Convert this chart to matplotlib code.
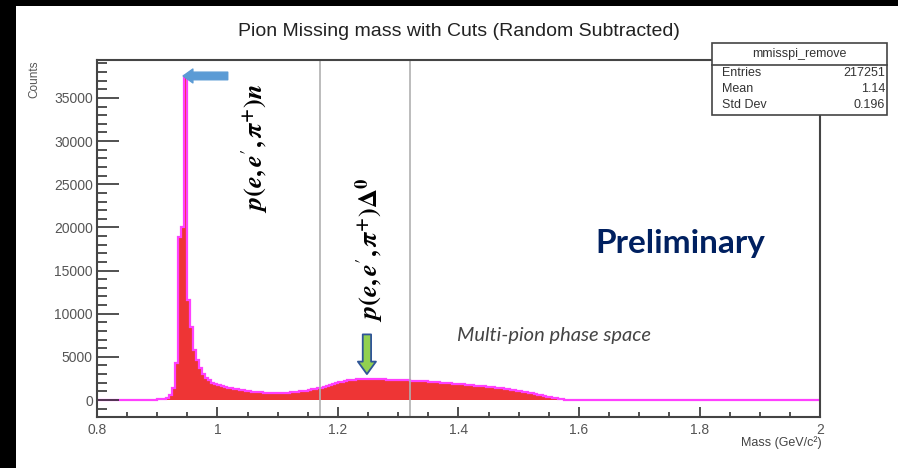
import matplotlib
matplotlib.use("Agg")
import matplotlib.pyplot as plt
import numpy as np
from matplotlib.patches import Rectangle

plt.rcParams['font.family'] = ['Liberation Sans', 'DejaVu Sans']
plt.rcParams['mathtext.fontset'] = 'stix'

# histogram: 240 bins of 0.005 GeV from 0.8 to 2.0
bin_lo = 0.8
bin_hi = 2.0
counts = (
    [0, 0, 0, 0, 0, 0, 0, 0, 0, 0] +                                   # 0.800
    [0, 0, 10, 10, 20, 20, 30, 30, 40, 50] +                           # 0.850
    [60, 90, 150, 250, 600, 1400, 4300, 18900, 20000, 37500] +         # 0.900
    [11600, 8500, 5800, 4600, 3700, 3000, 2600, 2300, 2000, 1800] +    # 0.950
    [1700, 1600, 1500, 1420, 1350, 1280, 1220, 1160, 1110, 1060] +     # 1.000
    [1020, 980, 940, 900, 870, 850, 830, 820, 810, 810] +              # 1.050
    [810, 820, 830, 850, 880, 910, 950, 990, 1040, 1090] +             # 1.100
    [1150, 1220, 1290, 1360, 1440, 1530, 1640, 1750, 1860, 1960] +     # 1.150
    [2050, 2140, 2210, 2270, 2320, 2370, 2400, 2430, 2450, 2470] +     # 1.200
    [2480, 2470, 2450, 2420, 2400, 2380, 2370, 2350, 2330, 2310] +     # 1.250
    [2290, 2280, 2270, 2260, 2240, 2230, 2210, 2200, 2180, 2160] +     # 1.300
    [2140, 2120, 2080, 2050, 2020, 1980, 1950, 1920, 1880, 1850] +     # 1.350
    [1830, 1800, 1770, 1740, 1710, 1680, 1650, 1610, 1580, 1540] +     # 1.400
    [1510, 1470, 1440, 1400, 1360, 1310, 1260, 1200, 1140, 1080] +     # 1.450
    [1020, 960, 900, 840, 770, 700, 620, 540, 460, 390] +              # 1.500
    [320, 250, 180, 120, 70, 30, 10, 0, 0, 0] +                        # 1.550
    [0] * 80                                                           # 1.600 - 2.000
)
edges = np.linspace(bin_lo, bin_hi, len(counts) + 1)

cut_lines = [1.17, 1.32]
stat_names = ['Entries', 'Mean', 'Std Dev']
stat_values = ['217251', '1.14', '0.196']

fig = plt.figure(figsize=(8.98, 4.68), dpi=100)
ax = fig.add_axes([97/898, 1-417/468, 723/898, 357/468])

ax.stairs(counts, edges, fill=True, color='#ee3535', lw=0)
ax.stairs(counts, edges, color='#ff40ff', lw=1.6)
for c in cut_lines:
    ax.axvline(c, color='#b0b0b0', lw=1.2)

ax.set_xlim(bin_lo, bin_hi)
ax.set_ylim(-1970, 39400)
ax.set_xticks(np.arange(0.8, 2.01, 0.2))
ax.set_xticklabels(['0.8', '1', '1.2', '1.4', '1.6', '1.8', '2'])
ax.set_xticks(np.arange(0.8, 2.0, 0.05), minor=True)
ax.set_yticks(np.arange(0, 35001, 5000))
ax.set_yticks(np.arange(-1000, 39001, 1000), minor=True)
ax.tick_params(axis='both', which='both', direction='in', colors='#333333',
               labelcolor='#555555', labelsize=10, width=1.2)
ax.tick_params(axis='y', which='major', length=16, pad=3)
ax.tick_params(axis='y', which='minor', length=7)
ax.tick_params(axis='x', which='major', length=7.5, pad=4)
ax.tick_params(axis='x', which='minor', length=3.5)
for s in ax.spines.values():
    s.set_color('#444444')
    s.set_linewidth(1.5)

# annotations
ax.annotate('', xy=(0.943, 37550), xytext=(1.017, 37550),
            arrowprops=dict(arrowstyle='simple,head_width=1.0,head_length=0.7,tail_width=0.55',
                            color='#5b9bd5', shrinkA=0, shrinkB=0))
ax.annotate('', xy=(1.248, 3000), xytext=(1.248, 7600),
            arrowprops=dict(arrowstyle='simple,head_width=1.3,head_length=0.9,tail_width=0.6',
                            fc='#92d050', ec='#2f5597', lw=1.3, shrinkA=0, shrinkB=0))
lab_n = (r'$\mathbfit{p}\mathbf{(}\mathbfit{e}\mathbf{,}\,\mathbfit{e}^{\prime}\mathbf{,}\,'
         r'\mathbfit{\pi}^{\mathbf{+}}\mathbf{)}\mathbfit{n}$')
lab_d = (r'$\mathbfit{p}\mathbf{(}\mathbfit{e}\mathbf{,}\,\mathbfit{e}^{\prime}\mathbf{,}\,'
         r'\mathbfit{\pi}^{\mathbf{+}}\mathbf{)}\mathbf{\Delta}^{\mathbf{0}}$')
ax.text(1.062, 29100, lab_n, rotation=90, ha='center', va='center',
        fontsize=19, color='black')
ax.text(1.253, 17400, lab_d, rotation=90, ha='center', va='center',
        fontsize=19, color='black')

fig.text(680/898, 1-243/468, 'Preliminary', ha='center', va='center',
         fontsize=24, fontweight='bold', color='#002060', family='Lato')
fig.text(554/898, 1-335/468, 'Multi-pion phase space', ha='center', va='center',
         fontsize=14.5, style='italic', color='#444444', family='Lato')

fig.text(459/898, 1-31/468, 'Pion Missing mass with Cuts (Random Subtracted)',
         ha='center', va='center', fontsize=14, color='#222222')
fig.text(34/898, 1-60/468, 'Counts', rotation=90, ha='center', va='top',
         fontsize=8.5, color='#555555')
fig.text(822/898, 1-443/468, 'Mass (GeV/c²)', ha='right', va='center',
         fontsize=9, color='#444444')

# stats box
bx0, bx1 = 712/898, 887/898
by0, by1 = 1-115/468, 1-43/468
fig.patches.append(Rectangle((bx0, by0), bx1-bx0, by1-by0, transform=fig.transFigure,
                             fc='white', ec='#444444', lw=1.2, zorder=5))
fig.lines.append(plt.Line2D([bx0, bx1], [1-65/468]*2, transform=fig.transFigure,
                            color='#444444', lw=1.2, zorder=6))
fig.text((bx0+bx1)/2, 1-54/468, 'mmisspi_remove', ha='center', va='center',
         fontsize=9, color='#333333', zorder=7)
for i, (n, v) in enumerate(zip(stat_names, stat_values)):
    yy = 1-(73+16*i)/468
    fig.text(722/898, yy, n, ha='left', va='center', fontsize=9, color='#333333', zorder=7)
    fig.text(885/898, yy, v, ha='right', va='center', fontsize=9, color='#333333', zorder=7)

# black borders of the screenshot
fig.patches.append(Rectangle((0, 0), 16/898, 1, transform=fig.transFigure,
                             fc='black', ec='none', zorder=10))
fig.patches.append(Rectangle((0, 1-6/468), 1, 6/468, transform=fig.transFigure,
                             fc='black', ec='none', zorder=10))

fig.savefig('out.png', dpi=100)
